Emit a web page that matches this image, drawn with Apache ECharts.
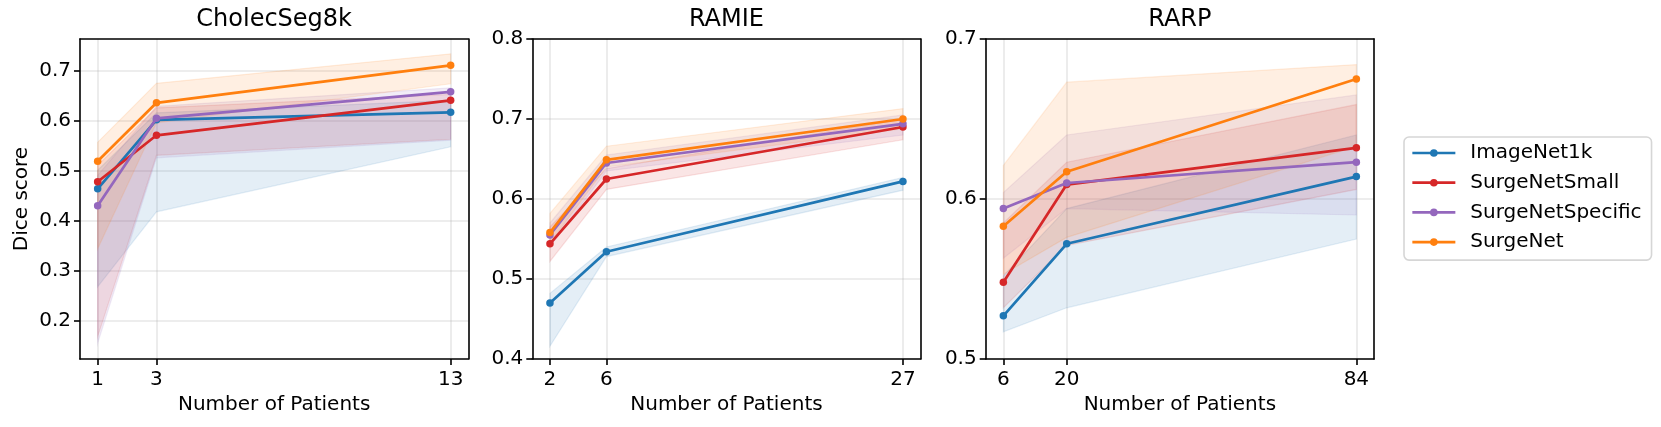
<!DOCTYPE html>
<html><head><meta charset="utf-8">
<script src="https://cdn.jsdelivr.net/npm/echarts@6/dist/echarts.min.js"></script>
<style>html,body{margin:0;padding:0;background:#fff}#c{width:1661px;height:427px}</style>
</head><body><div id="c"></div>
<script>
// ---------- data ----------
const methods = ['ImageNet1k', 'SurgeNetSmall', 'SurgeNetSpecific', 'SurgeNet'];
const datasetTitles = ['CholecSeg8k', 'RAMIE', 'RARP'];

const cholecX = [1, 3, 13];
const cholecMean = [
  [0.463, 0.601, 0.616],
  [0.477, 0.570, 0.640],
  [0.429, 0.604, 0.657],
  [0.518, 0.635, 0.710]
];
const cholecLow = [
  [0.267, 0.417, 0.547],
  [0.167, 0.530, 0.562],
  [0.154, 0.525, 0.560],
  [0.343, 0.595, 0.673]
];
const cholecHigh = [
  [0.500, 0.615, 0.640],
  [0.510, 0.625, 0.652],
  [0.490, 0.628, 0.665],
  [0.556, 0.674, 0.733]
];

const ramieX = [2, 6, 27];
const ramieMean = [
  [0.470, 0.534, 0.622],
  [0.544, 0.625, 0.690],
  [0.555, 0.645, 0.694],
  [0.558, 0.649, 0.700]
];
const ramieLow = [
  [0.416, 0.528, 0.611],
  [0.522, 0.612, 0.674],
  [0.540, 0.635, 0.680],
  [0.545, 0.640, 0.688]
];
const ramieHigh = [
  [0.482, 0.540, 0.627],
  [0.565, 0.638, 0.700],
  [0.570, 0.655, 0.705],
  [0.582, 0.666, 0.713]
];

const rarpX = [6, 20, 84];
const rarpMean = [
  [0.527, 0.572, 0.614],
  [0.548, 0.609, 0.632],
  [0.594, 0.610, 0.623],
  [0.583, 0.617, 0.675]
];
const rarpLow = [
  [0.517, 0.532, 0.575],
  [0.532, 0.571, 0.606],
  [0.563, 0.594, 0.590],
  [0.553, 0.576, 0.633]
];
const rarpHigh = [
  [0.552, 0.594, 0.640],
  [0.585, 0.623, 0.659],
  [0.604, 0.640, 0.665],
  [0.621, 0.673, 0.684]
];

const cholecYTicks = [0.2, 0.3, 0.4, 0.5, 0.6, 0.7];
const ramieYTicks = [0.4, 0.5, 0.6, 0.7, 0.8];
const rarpYTicks = [0.5, 0.6, 0.7];

// ---------- style / layout ----------
const colors = ['#1f77b4', '#d62728', '#9467bd', '#ff7f0e'];
const FONT = 'DejaVu Sans';
const panels = [
  { left: 80,    xs: cholecX, mean: cholecMean, lo: cholecLow, hi: cholecHigh, xr: [0.4, 13.6],  yr: [0.1226, 0.7626], yt: cholecYTicks },
  { left: 532.3, xs: ramieX,  mean: ramieMean,  lo: ramieLow,  hi: ramieHigh,  xr: [0.75, 28.25], yr: [0.4, 0.8],       yt: ramieYTicks },
  { left: 985.7, xs: rarpX,   mean: rarpMean,   lo: rarpLow,   hi: rarpHigh,   xr: [2.1, 87.9],   yr: [0.5, 0.7],       yt: rarpYTicks }
];
const PW = 388.3, PT = 39, PH = 320;
const gridColor = 'rgba(176,176,176,0.3)';

const grids = [], xAxes = [], yAxes = [], series = [], titles = [];

panels.forEach((p, pi) => {
  grids.push({ left: p.left, top: PT, width: PW, height: PH, containLabel: false,
    show: true, borderWidth: 0 });
  xAxes.push({
    type: 'value', gridIndex: pi, min: p.xr[0], max: p.xr[1],
    name: 'Number of Patients', nameLocation: 'middle', nameGap: 35,
    nameTextStyle: { fontFamily: FONT, fontSize: 20, color: '#000' },
    axisLine: { show: true, onZero: false, lineStyle: { color: '#000', width: 1.6 } },
    axisTick: { show: true, inside: false, length: 6, customValues: p.xs, lineStyle: { color: '#000', width: 1.6 } },
    axisLabel: { customValues: p.xs, margin: 11, fontFamily: FONT, fontSize: 20, color: '#000' },
    splitLine: { show: true, lineStyle: { color: gridColor, width: 1.6 } }
  });
  // top border
  xAxes.push({
    type: 'value', gridIndex: pi, position: 'top', min: p.xr[0], max: p.xr[1],
    axisLine: { show: true, onZero: false, lineStyle: { color: '#000', width: 1.6 } },
    axisTick: { show: false }, axisLabel: { show: false }, splitLine: { show: false }
  });
  yAxes.push({
    type: 'value', gridIndex: pi, min: p.yr[0], max: p.yr[1],
    name: pi === 0 ? 'Dice score' : '', nameLocation: 'middle', nameGap: 48,
    nameTextStyle: { fontFamily: FONT, fontSize: 20, color: '#000' },
    axisLine: { show: true, onZero: false, lineStyle: { color: '#000', width: 1.6 } },
    axisTick: { show: true, inside: false, length: 6, customValues: p.yt, lineStyle: { color: '#000', width: 1.6 } },
    axisLabel: { customValues: p.yt, margin: 9, fontFamily: FONT, fontSize: 20, color: '#000',
      formatter: v => v.toFixed(1) },
    splitLine: { show: true, lineStyle: { color: gridColor, width: 1.6 } }
  });
  yAxes.push({
    type: 'value', gridIndex: pi, position: 'right', min: p.yr[0], max: p.yr[1],
    axisLine: { show: true, onZero: false, lineStyle: { color: '#000', width: 1.6 } },
    axisTick: { show: false }, axisLabel: { show: false }, splitLine: { show: false }
  });
  titles.push({
    text: datasetTitles[pi], left: p.left + PW / 2, top: 8, textAlign: 'center', padding: 0,
    textStyle: { fontFamily: FONT, fontSize: 24, fontWeight: 'normal', color: '#000' }
  });

  const xi = pi * 2, yi = pi * 2;
  // bands
  methods.forEach((m, i) => {
    const xs = p.xs, lo = p.lo[i], hi = p.hi[i], col = colors[i];
    series.push({
      type: 'custom', name: m + ' band', xAxisIndex: xi, yAxisIndex: yi, silent: true, z: 1,
      clip: true,
      data: [[xs[0], lo[0]]],
      renderItem: (params, api) => {
        const pts = [];
        xs.forEach((x, k) => pts.push(api.coord([x, hi[k]])));
        for (let k = xs.length - 1; k >= 0; k--) pts.push(api.coord([xs[k], lo[k]]));
        return { type: 'polygon', shape: { points: pts },
          style: { fill: col, opacity: 0.12, stroke: col, lineWidth: 1.2 } };
      }
    });
  });
  // lines
  methods.forEach((m, i) => {
    series.push({
      type: 'line', name: m, xAxisIndex: xi, yAxisIndex: yi, z: 3 + i,
      data: p.xs.map((x, k) => [x, p.mean[i][k]]),
      symbol: 'circle', symbolSize: 7.5, showSymbol: true,
      lineStyle: { width: 2.7, color: colors[i] },
      itemStyle: { color: colors[i] },
      emphasis: { disabled: true }, animation: false
    });
  });
});

const chart = echarts.init(document.getElementById('c'), null, { renderer: 'canvas' });
chart.setOption({
  animation: false,
  backgroundColor: '#fff',
  title: titles,
  grid: grids,
  xAxis: xAxes,
  yAxis: yAxes,
  legend: {
    data: methods, orient: 'vertical', left: 1404, top: 137,
    padding: [6, 10, 8, 7], itemGap: 9.7, itemWidth: 43, itemHeight: 9.5,
    borderColor: '#d6d6d6', borderWidth: 1.6, borderRadius: 5, backgroundColor: '#fff',
    selectedMode: false,
    lineStyle: { width: 2.7 },
    textStyle: { fontFamily: FONT, fontSize: 20, color: '#000', lineHeight: 20, padding: [0, 0, 0, 10] }
  },
  series: series
});
</script></body></html>
